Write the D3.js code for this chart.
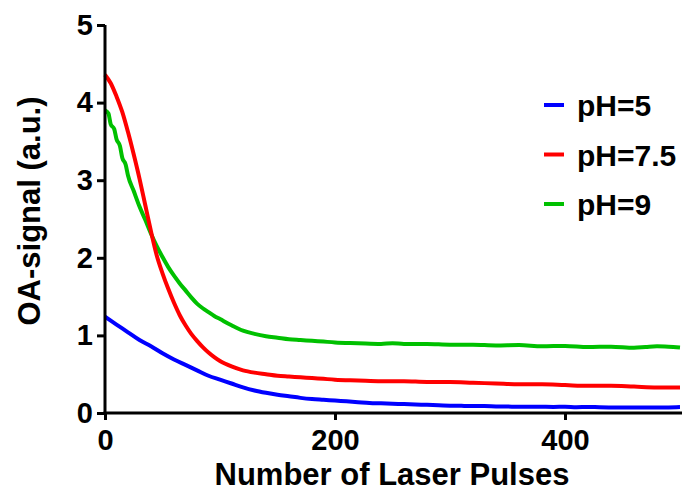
<!DOCTYPE html>
<html>
<head>
<meta charset="utf-8">
<script src="https://cdn.jsdelivr.net/npm/d3@7"></script>
<style>
  html, body { margin: 0; padding: 0; background: #fff; }
  svg { display: block; }
  text { font-family: "Liberation Sans", Arial, Helvetica, sans-serif; font-weight: bold; fill: #000; }
</style>
</head>
<body>
<script>
// ---- data ----
const seriesNames = ["pH=5", "pH=7.5", "pH=9"];
const seriesColors = ["#0000ff", "#ff0000", "#00c000"];

const pulsesBlue = [0,10,20,30,40,50,60,70,80,90,100,110,120,130,140,150,160,170,180,190,200,210,220,230,240,250,260,270,280,290,300,310,320,330,340,350,360,370,380,390,400,410,420,430,440,450,460,470,480,490,500];
const valuesBlue = [1.24,1.14,1.04,0.94,0.86,0.77,0.69,0.62,0.55,0.48,0.43,0.38,0.33,0.29,0.26,0.235,0.215,0.195,0.18,0.17,0.16,0.15,0.14,0.13,0.125,0.12,0.115,0.11,0.105,0.10,0.095,0.092,0.09,0.09,0.085,0.083,0.08,0.082,0.08,0.078,0.08,0.075,0.078,0.074,0.072,0.072,0.07,0.072,0.07,0.072,0.076];

const pulsesRed = [0,5,10,15,20,25,30,35,40,45,50,55,60,65,70,75,80,85,90,95,100,110,120,130,140,150,160,170,180,190,200,220,240,260,280,300,320,340,360,380,400,420,440,460,480,500];
const valuesRed = [4.36,4.25,4.08,3.88,3.62,3.33,3.02,2.68,2.34,2.03,1.80,1.60,1.42,1.26,1.13,1.02,0.93,0.85,0.78,0.72,0.67,0.60,0.55,0.52,0.50,0.48,0.47,0.46,0.45,0.44,0.43,0.42,0.41,0.41,0.40,0.40,0.39,0.38,0.37,0.37,0.36,0.35,0.35,0.34,0.33,0.33];

const pulsesGreen = [0,3,5,8,10,13,15,18,20,25,30,35,40,45,50,55,60,65,70,75,80,85,90,95,100,110,120,130,140,150,160,170,180,190,200,220,240,250,260,280,300,320,340,360,380,400,420,440,460,470,480,490,500];
const valuesGreen = [3.90,3.86,3.72,3.66,3.53,3.44,3.29,3.20,3.06,2.86,2.66,2.49,2.31,2.15,2.01,1.88,1.77,1.67,1.58,1.49,1.41,1.35,1.30,1.25,1.21,1.13,1.06,1.02,0.99,0.97,0.95,0.94,0.93,0.92,0.91,0.90,0.89,0.90,0.89,0.89,0.88,0.88,0.87,0.875,0.86,0.865,0.85,0.855,0.84,0.85,0.86,0.855,0.845];

const xTicks = [0, 200, 400];
const yTicks = [0, 1, 2, 3, 4, 5];
const xTitle = "Number of Laser Pulses";
const yTitle = "OA-signal (a.u.)";

// ---- drawing ----
const W = 683, H = 492;
const svg = d3.select("body").append("svg").attr("width", W).attr("height", H);
svg.append("rect").attr("width", W).attr("height", H).attr("fill", "#fff");

const x = d3.scaleLinear().domain([0, 500]).range([105, 680]);
const y = d3.scaleLinear().domain([0, 5]).range([413, 25]);

const series = [
  { name: seriesNames[0], color: seriesColors[0], xs: pulsesBlue, ys: valuesBlue },
  { name: seriesNames[1], color: seriesColors[1], xs: pulsesRed, ys: valuesRed },
  { name: seriesNames[2], color: seriesColors[2], xs: pulsesGreen, ys: valuesGreen }
];

const line = d3.line().x(d => x(d[0])).y(d => y(d[1])).curve(d3.curveMonotoneX);

const drawOrder = [2, 0, 1];
drawOrder.forEach(i => {
  const s = series[i];
  svg.append("path")
    .datum(s.xs.map((v, k) => [v, s.ys[k]]))
    .attr("fill", "none")
    .attr("stroke", s.color)
    .attr("stroke-width", 4)
    .attr("stroke-linejoin", "round")
    .attr("d", line);
});

// axes
const xAxis = svg.append("g").attr("transform", "translate(0,413)")
  .call(d3.axisBottom(x).tickValues(xTicks).tickFormat(d3.format("d")).tickSize(7).tickPadding(9).tickSizeOuter(0));
const yAxis = svg.append("g").attr("transform", "translate(105,0)")
  .call(d3.axisLeft(y).tickValues(yTicks).tickFormat(d3.format("d")).tickSize(8).tickPadding(4).tickSizeOuter(0));

[xAxis, yAxis].forEach(g => {
  g.select(".domain").attr("stroke", "#000").attr("stroke-width", 3);
  g.selectAll(".tick line").attr("stroke", "#000").attr("stroke-width", 3);
  g.selectAll(".tick text").attr("font-size", 29).attr("font-family", "Liberation Sans, Arial, sans-serif").attr("font-weight", "bold").attr("fill", "#000");
});
xAxis.select(".domain").attr("d", `M${x(0)-1.5},0H682`);
yAxis.select(".domain").attr("d", `M0,${y(0)+1.5}V${y(5)}`);

// titles
svg.append("text").attr("x", 392).attr("y", 485).attr("text-anchor", "middle")
  .attr("font-size", 31).text(xTitle);
svg.append("text").attr("transform", "translate(40,211) rotate(-90)").attr("text-anchor", "middle")
  .attr("font-size", 31).text(yTitle);

// legend
const legend = svg.append("g");
series.forEach((s, i) => {
  const by = 116 + i * 49.5;
  legend.append("line").attr("x1", 544).attr("x2", 564).attr("y1", by - 11).attr("y2", by - 11)
    .attr("stroke", s.color).attr("stroke-width", 4);
  legend.append("text").attr("x", 577).attr("y", by).attr("font-size", 30).text(s.name);
});
</script>
</body>
</html>
